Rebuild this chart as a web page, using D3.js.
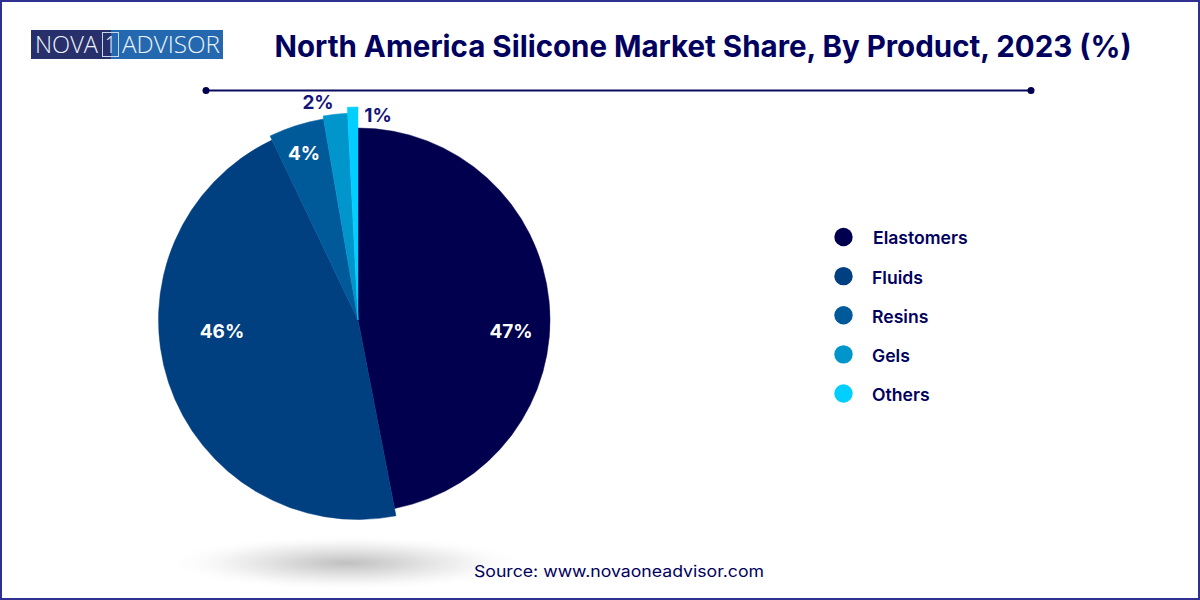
<!DOCTYPE html>
<html><head><meta charset="utf-8">
<script src="https://cdn.jsdelivr.net/npm/d3@7"></script>
<style>html,body{margin:0;padding:0;background:#fff}svg{display:block}</style>
</head><body><svg id="c" width="1200" height="600"></svg>
<script>
const categories = ["Elastomers","Fluids","Resins","Gels","Others"];
const shares = [47,46,4.4,1.9,0.8];
const palette = ["#00004f","#003f80","#005a9a","#0095cb","#00cfff"];
const title = "North America Silicone Market Share, By Product, 2023 (%)";
const source = "Source: www.novaoneadvisor.com";

const svg = d3.select("#c");
const defs = svg.append("defs");
const grad = defs.append("radialGradient").attr("id","shadow");
[[0,"#c0c0c0",1],[0.3,"#d6d6d6",0.95],[0.62,"#ececec",0.8],[1,"#ffffff",0]].forEach(s=>
  grad.append("stop").attr("offset",s[0]).attr("stop-color",s[1]).attr("stop-opacity",s[2]));

svg.append("rect").attr("x",1).attr("y",1).attr("width",1198).attr("height",598)
  .attr("fill","#fff").attr("stroke","#2e3192").attr("stroke-width",2);

// logo
svg.append("rect").attr("x",31).attr("y",30).attr("width",80).attr("height",29).attr("fill","#27306b");
svg.append("rect").attr("x",111).attr("y",30).attr("width",112).attr("height",29).attr("fill","#2469b0");
svg.append("rect").attr("x",102.5).attr("y",32.5).attr("width",16).attr("height",24)
  .attr("fill","none").attr("stroke","#c9d6ea").attr("stroke-width",1);
const logo = [["NOVA",35,63],["1",105,11],["ADVISOR",122,98]];
logo.forEach(l=>{
  svg.append("text").attr("x",l[1]).attr("y",53).text(l[0])
    .attr("textLength",l[2]).attr("lengthAdjust","spacingAndGlyphs")
    .attr("font-family","'Open Sans',sans-serif").attr("font-weight",300)
    .attr("font-size","23px").attr("fill","#eef3fa");
});

// title
svg.append("text").attr("x",703).attr("y",57).attr("text-anchor","middle")
  .attr("font-family","Inter,sans-serif").attr("font-weight",700).attr("font-size","30px")
  .attr("fill","#00005e").attr("textLength",857).attr("lengthAdjust","spacingAndGlyphs").text(title);
svg.append("line").attr("x1",206).attr("x2",1031).attr("y1",90.5).attr("y2",90.5)
  .attr("stroke","#0b0b5e").attr("stroke-width",2);
[206,1031].forEach(x=>svg.append("circle").attr("cx",x).attr("cy",90.5).attr("r",3.5).attr("fill","#00004f"));

// shadow
svg.append("ellipse").attr("cx",347).attr("cy",563).attr("rx",182).attr("ry",28).attr("fill","url(#shadow)");

// pie
const cx=358, cy=320;
const outer = d3.scaleOrdinal().domain(categories).range([192,199.5,204,207,213]);
const pie = d3.pie().value((d,i)=>shares[i]).sort(null);
const arcs = pie(categories);
const g = svg.append("g").attr("transform",`translate(${cx},${cy})`);
const arc = d3.arc().innerRadius(0).outerRadius(d=>outer(d.data));
g.selectAll("path").data(arcs).join("path")
  .attr("d",arc).attr("fill",(d,i)=>palette[i])
  .attr("stroke",(d,i)=>palette[i]).attr("stroke-width",0.5);

// labels
const labelAt = d3.scaleOrdinal().domain(categories).range([
  [153,12],[-136,12],[-54,-166],[-40,-217],[20,-204]]);
const labelFill = ["#fff","#fff","#fff","#14147a","#14147a"];
g.selectAll("text").data(arcs).join("text")
  .attr("x",d=>labelAt(d.data)[0]).attr("y",d=>labelAt(d.data)[1]+6)
  .attr("text-anchor","middle")
  .attr("font-family","Inter,sans-serif").attr("font-weight",700).attr("font-size","19px")
  .attr("fill",(d,i)=>labelFill[i]).text(d=>d3.format(".0f")(d.value)+"%");

// legend
const legendY = d3.scalePoint().domain(categories).range([237,393.5]);
const legend = svg.append("g").selectAll("g").data(categories).join("g");
legend.append("circle").attr("cx",843.5).attr("cy",d=>legendY(d)).attr("r",9.2)
  .attr("fill",(d,i)=>palette[i]);
legend.append("text").attr("x",(d,i)=>i===0?873:872).attr("y",(d,i)=>legendY(d)+(i===0?6.5:7.7))
  .attr("font-family","Inter,sans-serif").attr("font-weight",600).attr("font-size","17.6px")
  .attr("fill","#00005e").text(d=>d);

// source
svg.append("text").attr("x",474).attr("y",577)
  .attr("font-family","Inter,sans-serif").attr("font-weight",400).attr("font-size","16px")
  .attr("fill","#00005e").attr("textLength",290).attr("lengthAdjust","spacingAndGlyphs").text(source);
</script></body></html>
